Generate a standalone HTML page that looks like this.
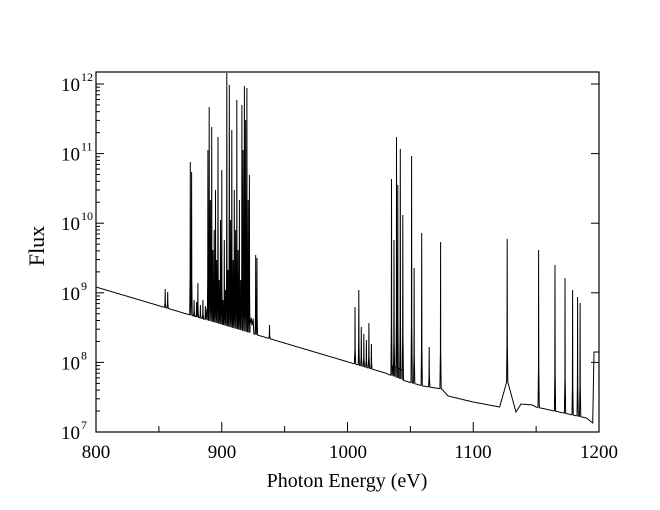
<!DOCTYPE html>
<html><head><meta charset="utf-8"><style>
html,body{margin:0;padding:0;background:#fff;}
svg{display:block;font-family:"Liberation Serif",serif;}
</style></head><body>
<svg id="s" width="660" height="510" xmlns="http://www.w3.org/2000/svg">
<rect x="96" y="72" width="503" height="360" fill="none" stroke="#000" stroke-width="1.2"/>
<g id="ax" stroke="#000" stroke-width="1"></g>
<g font-size="19" fill="#000" text-anchor="middle">
<text x="96" y="458">800</text><text x="222" y="458">900</text><text x="348" y="458">1000</text><text x="473" y="458">1100</text><text x="599" y="458">1200</text>
</g>
<g font-size="19" fill="#000" text-anchor="end" id="yl"></g>
<text x="347" y="487" font-size="20" text-anchor="middle">Photon Energy (eV)</text>
<text transform="translate(44,246) rotate(-90)" font-size="22" text-anchor="middle">Flux</text>
<path id="p" fill="none" stroke="#000" stroke-width="1"/>
</svg>
<script>
var X=function(e){return 96+(e-800)*1.2575;};
var yTop=84,dec=69.6;
var ax=document.getElementById('ax'),h='';
for(var d=0;d<5;d++){for(var m=1;m<10;m++){var y=432-(d+Math.log10(m))*dec;if(y<72)continue;var L=m==1?8:4;h+='<line x1="96" x2="'+(96+L)+'" y1="'+y+'" y2="'+y+'"/>';if(m==1)h+='<line x1="599" x2="591" y1="'+y+'" y2="'+y+'"/>';}}
h+='<line x1="96" x2="104" y1="'+yTop+'" y2="'+yTop+'"/><line x1="599" x2="591" y1="'+yTop+'" y2="'+yTop+'"/>';
for(var e=850;e<1200;e+=50){var x=X(e);h+='<line x1="'+x+'" x2="'+x+'" y1="432" y2="'+(e%100?426:422)+'"/>';}
ax.innerHTML=h;
var yl='';for(var k=7;k<=12;k++){var y=432-(k-7)*dec+7;yl+='<text x="80" y="'+y+'">10</text><text x="81" y="'+(y-10)+'" font-size="12" text-anchor="start">'+k+'</text>';}
document.getElementById('yl').innerHTML=yl;
var B=[[800,287],[1030,373],[1034,375],[1046,381],[1060,386],[1075,389],[1080,396],[1100,402],[1121,407],[1127,380],[1134,412],[1138,404],[1147,405],[1150,407],[1190,418],[1195,423]];
function base(e){for(var i=0;i<B.length-1;i++){if(e<=B[i+1][0]){var t=(e-B[i][0])/(B[i+1][0]-B[i][0]);return B[i][1]+t*(B[i+1][1]-B[i][1]);}}return 423;}
var S=[[855,289],[857,292],[875,162],[876,172],[878,300],[880,302],[881,283],[883,305],[885,300],[887,306],[889,150],[890,107],[891,200],[892,127],[893,250],[894,230],[895,190],[896,260],[897,137],[898,280],[899,220],[900,170],[901,300],[902,240],[903,290],[904,73],[905,270],[906,85],[907,220],[908,130],[909,260],[910,190],[911,230],[912,100],[913,250],[914,200],[915,280],[916,105],[917,150],[918,86],[919,120],[920,88],[921,200],[922,175],[927,255],[928,258],[938,325],
[1006,307],[1009,290],[1011,327],[1013,334],[1015,340],[1017,323],[1019,344],[1035,179],[1037,240],[1039,137],[1040,185],[1042,149],[1044,215],[1051,156],[1053,268],[1059,233],[1065,347],[1074,242],[1127,239],[1152,250],[1165,265],[1173,278],[1179,290],[1183,297],[1185,303]];
var pts=[];
for(var e=800;e<=1195;e+=0.5){
 var s=null;for(var j=0;j<S.length;j++){if(Math.abs(S[j][0]-e)<0.01)s=S[j];}
 var b=base(e);
 if(e>=888&&e<=925&&!s)b=b-8-((e*7)%11);
 if(e>=1036&&e<=1044&&!s)b=b-10;
 if(s){var mid=(b+s[1])/2;var w=Math.max(b-mid,0)>60?0.35:0.25;pts.push([X(e-0.5),b]);pts.push([X(e-0.15),b-(b-s[1])*0.25]);pts.push([X(e),s[1]]);pts.push([X(e+0.15),b-(b-s[1])*0.25]);pts.push([X(e+0.5),b]);}
 else pts.push([X(e),b]);
}
pts.push([X(1196),352]);pts.push([X(1200),352]);
document.getElementById('p').setAttribute('d','M'+pts.map(function(p){return p[0].toFixed(1)+','+p[1].toFixed(1);}).join('L'));
</script>
</body></html>
